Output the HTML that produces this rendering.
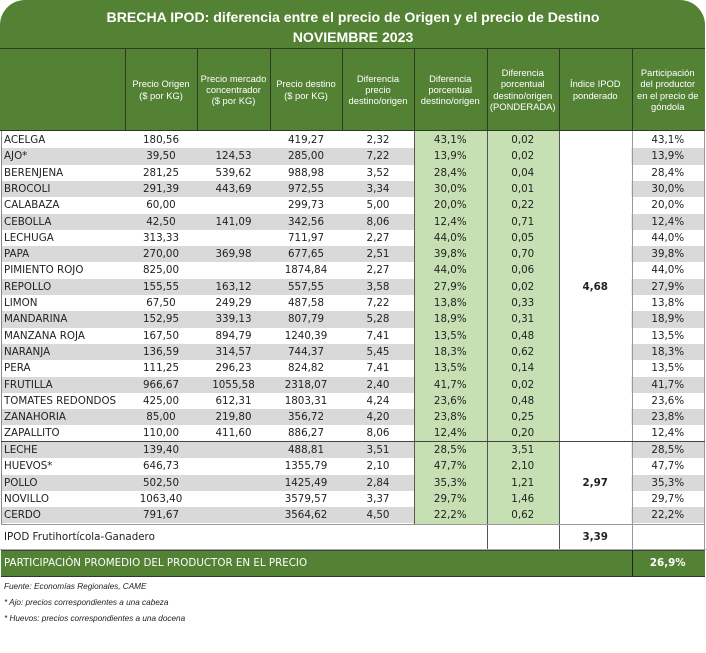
<!DOCTYPE html>
<html><head><meta charset="utf-8">
<style>
*{margin:0;padding:0;box-sizing:border-box}
html,body{width:706px;height:653px;background:#fff;overflow:hidden}
body{position:relative;font-family:"DejaVu Sans",Verdana,sans-serif;color:#222}
.abs{position:absolute}
#hdr{position:absolute;left:0;top:0;width:705px;height:131px;background:#548235;border-radius:25px 25px 0 0}
.t{position:absolute;left:0;width:706px;text-align:center;color:#fff;font-family:"Liberation Sans",Arial,sans-serif;font-weight:bold;font-size:14.1px;line-height:20px}
.hl{position:absolute;background:#2e3a28}
.hc{position:absolute;top:49px;height:81px;display:flex;align-items:center;justify-content:center;text-align:center;color:#fff;font-family:"Liberation Sans",Arial,sans-serif;font-size:9.4px;line-height:11.2px}
.row{position:absolute;left:0;width:706px;height:16.3px;font-size:10.3px}
.row span{position:absolute;top:0;height:100%;line-height:16.3px;text-align:center;white-space:nowrap}
.gr{background:linear-gradient(to right,transparent 2px,#d9d9d9 2px,#d9d9d9 414px,transparent 414px,transparent 631.5px,#d9d9d9 631.5px,#d9d9d9 704px,transparent 704px)}
.row .n{left:4px;text-align:left}
.a{left:125px;width:72px}
.b{left:197px;width:73px}
.c{left:270px;width:72px}
.d{left:342px;width:72px}
.e{left:414px;width:72.5px}
.f{left:486.5px;width:72.5px}
.h{left:631.5px;width:72.5px}
.vl{position:absolute;width:1px;background:#555}
.bold{font-weight:bold}
.foot{position:absolute;left:4px;font-family:"Liberation Sans",Arial,sans-serif;font-style:italic;font-size:8.2px;color:#222;line-height:10px}
</style></head><body>

<div id="hdr"></div>
<div class="t" style="top:7px">BRECHA IPOD: diferencia entre el precio de Origen y el precio de Destino</div>
<div class="t" style="top:27px">NOVIEMBRE 2023</div>
<div class="hl" style="left:0;top:48px;width:705px;height:1px"></div>
<div class="hl" style="left:0;top:130px;width:705px;height:1px"></div>
<div class="hl" style="left:125px;top:48px;width:1px;height:83px"></div>
<div class="hl" style="left:197px;top:48px;width:1px;height:83px"></div>
<div class="hl" style="left:269.5px;top:48px;width:1px;height:83px"></div>
<div class="hl" style="left:342px;top:48px;width:1px;height:83px"></div>
<div class="hl" style="left:414px;top:48px;width:1px;height:83px"></div>
<div class="hl" style="left:486.5px;top:48px;width:1px;height:83px"></div>
<div class="hl" style="left:559px;top:48px;width:1px;height:83px"></div>
<div class="hl" style="left:631.5px;top:48px;width:1px;height:83px"></div>

<div class="hc" style="left:125px;width:72px">Precio Origen<br>($ por KG)</div>
<div class="hc" style="left:197px;width:73px">Precio mercado<br>concentrador<br>($ por KG)</div>
<div class="hc" style="left:270px;width:72px">Precio destino<br>($ por KG)</div>
<div class="hc" style="left:342px;width:72px">Diferencia<br>precio<br>destino/origen</div>
<div class="hc" style="left:414px;width:72.5px">Diferencia<br>porcentual<br>destino/origen</div>
<div class="hc" style="left:486.5px;width:72.5px">Diferencia<br>porcentual<br>destino/origen<br>(PONDERADA)</div>
<div class="hc" style="left:559px;width:72.5px">Índice IPOD<br>ponderado</div>
<div class="hc" style="left:631.5px;width:72.5px">Participación<br>del productor<br>en el precio de<br>góndola</div>

<!-- green columns -->
<div class="abs" style="left:414px;top:131px;width:145px;height:393px;background:#c6e0b4"></div>

<!-- rows block 1 -->
<div class="row" style="top:132px"><span class="n">ACELGA</span><span class="a">180,56</span><span class="b"></span><span class="c">419,27</span><span class="d">2,32</span><span class="e">43,1%</span><span class="f">0,02</span><span class="h">43,1%</span></div>
<div class="row gr" style="top:148.3px"><span class="n">AJO*</span><span class="a">39,50</span><span class="b">124,53</span><span class="c">285,00</span><span class="d">7,22</span><span class="e">13,9%</span><span class="f">0,02</span><span class="h">13,9%</span></div>
<div class="row" style="top:164.6px"><span class="n">BERENJENA</span><span class="a">281,25</span><span class="b">539,62</span><span class="c">988,98</span><span class="d">3,52</span><span class="e">28,4%</span><span class="f">0,04</span><span class="h">28,4%</span></div>
<div class="row gr" style="top:180.9px"><span class="n">BROCOLI</span><span class="a">291,39</span><span class="b">443,69</span><span class="c">972,55</span><span class="d">3,34</span><span class="e">30,0%</span><span class="f">0,01</span><span class="h">30,0%</span></div>
<div class="row" style="top:197.2px"><span class="n">CALABAZA</span><span class="a">60,00</span><span class="b"></span><span class="c">299,73</span><span class="d">5,00</span><span class="e">20,0%</span><span class="f">0,22</span><span class="h">20,0%</span></div>
<div class="row gr" style="top:213.5px"><span class="n">CEBOLLA</span><span class="a">42,50</span><span class="b">141,09</span><span class="c">342,56</span><span class="d">8,06</span><span class="e">12,4%</span><span class="f">0,71</span><span class="h">12,4%</span></div>
<div class="row" style="top:229.8px"><span class="n">LECHUGA</span><span class="a">313,33</span><span class="b"></span><span class="c">711,97</span><span class="d">2,27</span><span class="e">44,0%</span><span class="f">0,05</span><span class="h">44,0%</span></div>
<div class="row gr" style="top:246.1px"><span class="n">PAPA</span><span class="a">270,00</span><span class="b">369,98</span><span class="c">677,65</span><span class="d">2,51</span><span class="e">39,8%</span><span class="f">0,70</span><span class="h">39,8%</span></div>
<div class="row" style="top:262.4px"><span class="n">PIMIENTO ROJO</span><span class="a">825,00</span><span class="b"></span><span class="c">1874,84</span><span class="d">2,27</span><span class="e">44,0%</span><span class="f">0,06</span><span class="h">44,0%</span></div>
<div class="row gr" style="top:278.7px"><span class="n">REPOLLO</span><span class="a">155,55</span><span class="b">163,12</span><span class="c">557,55</span><span class="d">3,58</span><span class="e">27,9%</span><span class="f">0,02</span><span class="h">27,9%</span></div>
<div class="row" style="top:295px"><span class="n">LIMON</span><span class="a">67,50</span><span class="b">249,29</span><span class="c">487,58</span><span class="d">7,22</span><span class="e">13,8%</span><span class="f">0,33</span><span class="h">13,8%</span></div>
<div class="row gr" style="top:311.3px"><span class="n">MANDARINA</span><span class="a">152,95</span><span class="b">339,13</span><span class="c">807,79</span><span class="d">5,28</span><span class="e">18,9%</span><span class="f">0,31</span><span class="h">18,9%</span></div>
<div class="row" style="top:327.6px"><span class="n">MANZANA ROJA</span><span class="a">167,50</span><span class="b">894,79</span><span class="c">1240,39</span><span class="d">7,41</span><span class="e">13,5%</span><span class="f">0,48</span><span class="h">13,5%</span></div>
<div class="row gr" style="top:343.9px"><span class="n">NARANJA</span><span class="a">136,59</span><span class="b">314,57</span><span class="c">744,37</span><span class="d">5,45</span><span class="e">18,3%</span><span class="f">0,62</span><span class="h">18,3%</span></div>
<div class="row" style="top:360.2px"><span class="n">PERA</span><span class="a">111,25</span><span class="b">296,23</span><span class="c">824,82</span><span class="d">7,41</span><span class="e">13,5%</span><span class="f">0,14</span><span class="h">13,5%</span></div>
<div class="row gr" style="top:376.5px"><span class="n">FRUTILLA</span><span class="a">966,67</span><span class="b">1055,58</span><span class="c">2318,07</span><span class="d">2,40</span><span class="e">41,7%</span><span class="f">0,02</span><span class="h">41,7%</span></div>
<div class="row" style="top:392.8px"><span class="n">TOMATES REDONDOS</span><span class="a">425,00</span><span class="b">612,31</span><span class="c">1803,31</span><span class="d">4,24</span><span class="e">23,6%</span><span class="f">0,48</span><span class="h">23,6%</span></div>
<div class="row gr" style="top:409.1px"><span class="n">ZANAHORIA</span><span class="a">85,00</span><span class="b">219,80</span><span class="c">356,72</span><span class="d">4,20</span><span class="e">23,8%</span><span class="f">0,25</span><span class="h">23,8%</span></div>
<div class="row" style="top:425.4px"><span class="n">ZAPALLITO</span><span class="a">110,00</span><span class="b">411,60</span><span class="c">886,27</span><span class="d">8,06</span><span class="e">12,4%</span><span class="f">0,20</span><span class="h">12,4%</span></div>

<!-- rows block 2 -->
<div class="row gr" style="top:442px"><span class="n">LECHE</span><span class="a">139,40</span><span class="b"></span><span class="c">488,81</span><span class="d">3,51</span><span class="e">28,5%</span><span class="f">3,51</span><span class="h">28,5%</span></div>
<div class="row" style="top:458.3px"><span class="n">HUEVOS*</span><span class="a">646,73</span><span class="b"></span><span class="c">1355,79</span><span class="d">2,10</span><span class="e">47,7%</span><span class="f">2,10</span><span class="h">47,7%</span></div>
<div class="row gr" style="top:474.6px"><span class="n">POLLO</span><span class="a">502,50</span><span class="b"></span><span class="c">1425,49</span><span class="d">2,84</span><span class="e">35,3%</span><span class="f">1,21</span><span class="h">35,3%</span></div>
<div class="row" style="top:490.9px"><span class="n">NOVILLO</span><span class="a">1063,40</span><span class="b"></span><span class="c">3579,57</span><span class="d">3,37</span><span class="e">29,7%</span><span class="f">1,46</span><span class="h">29,7%</span></div>
<div class="row gr" style="top:507.2px"><span class="n">CERDO</span><span class="a">791,67</span><span class="b"></span><span class="c">3564,62</span><span class="d">4,50</span><span class="e">22,2%</span><span class="f">0,62</span><span class="h">22,2%</span></div>

<!-- merged IPOD values -->
<div class="abs bold" style="left:559px;top:278.7px;width:72.5px;height:16.3px;line-height:16.3px;text-align:center;font-size:10.3px">4,68</div>
<div class="abs bold" style="left:559px;top:474.6px;width:72.5px;height:16.3px;line-height:16.3px;text-align:center;font-size:10.3px">2,97</div>

<!-- body vertical lines -->
<div class="vl" style="left:1px;top:131px;height:393px;background:#888"></div>
<div class="vl" style="left:414px;top:131px;height:393px"></div>
<div class="vl" style="left:486.5px;top:131px;height:418px"></div>
<div class="vl" style="left:559px;top:131px;height:418px"></div>
<div class="vl" style="left:631.5px;top:131px;height:418px;background:#999"></div>
<div class="vl" style="left:704px;top:131px;height:418px;background:#999"></div>

<!-- horizontal lines -->
<div class="abs" style="left:1px;top:441px;width:704px;height:1px;background:#444"></div>
<div class="abs" style="left:1px;top:523.8px;width:704px;height:1px;background:#999"></div>

<!-- IPOD row -->
<div class="row" style="top:525px;height:24px"><span class="n" style="line-height:24px">IPOD Frutihortícola-Ganadero</span><span style="left:559px;width:72.5px;line-height:24px" class="bold">3,39</span></div>
<div class="abs" style="left:0;top:549px;width:706px;height:1px;background:#aaa"></div>

<!-- green summary row -->
<div class="abs" style="left:1px;top:550px;width:704px;height:27px;background:#548235;border-bottom:1px solid #333;border-top:1px solid #444"></div>
<div class="abs" style="left:631.5px;top:550px;width:1px;height:27px;background:#222"></div>
<div class="abs" style="left:4px;top:550px;height:27px;line-height:27px;color:#fff;font-size:10.3px">PARTICIPACIÓN PROMEDIO DEL PRODUCTOR EN EL PRECIO</div>
<div class="abs bold" style="left:631.5px;top:550px;width:72.5px;height:27px;line-height:27px;color:#fff;font-size:10.3px;text-align:center">26,9%</div>

<!-- footnotes -->
<div class="foot" style="top:582px">Fuente: Economías Regionales, CAME</div>
<div class="foot" style="top:598px">* Ajo: precios correspondientes a una cabeza</div>
<div class="foot" style="top:614px">* Huevos: precios correspondientes a una docena</div>

</body></html>
